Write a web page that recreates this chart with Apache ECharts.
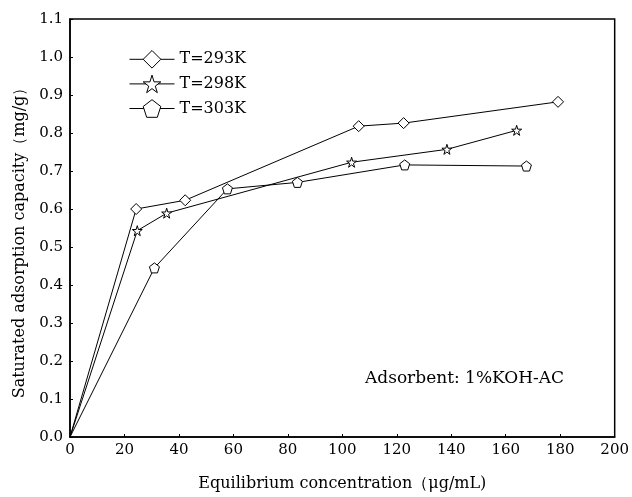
<!DOCTYPE html>
<html>
<head>
<meta charset="utf-8">
<script src="https://cdn.jsdelivr.net/npm/echarts@6/dist/echarts.min.js"></script>
<style>
  html, body { margin: 0; padding: 0; background: #fff; }
  #main { width: 632px; height: 497px; }
</style>
</head>
<body>
<div id="main"></div>
<script>
// values
var names = ['T=293K', 'T=298K', 'T=303K'];
var x293 = [0, 24.3, 42.3, 106, 122.5, 179.2];
var y293 = [0, 0.60, 0.623, 0.818, 0.826, 0.882];
var x298 = [0, 24.7, 35.5, 103.4, 138.4, 164];
var y298 = [0, 0.543, 0.589, 0.723, 0.757, 0.807];
var x303 = [0, 31, 57.8, 83.5, 122.9, 167.6];
var y303 = [0, 0.445, 0.653, 0.67, 0.716, 0.713];
var note = 'Adsorbent: 1%KOH-AC';

var STAR = 'path://M50,0 L61,35 L98,35 L68,57 L79,91 L50,70 L21,91 L32,57 L2,35 L39,35 Z';
var PENTA = 'path://M50,0 L98,35 L79,91 L21,91 L2,35 Z';
var FONT = 'DejaVu Serif';

function pts(xs, ys) {
  return xs.map(function (x, i) {
    // origin point: line only, no marker
    if (i === 0) return { value: [x, ys[i]], symbol: 'none' };
    return [x, ys[i]];
  });
}

function mk(name, xs, ys, sym, size) {
  return {
    name: name,
    type: 'line',
    data: pts(xs, ys),
    symbol: sym,
    symbolSize: size,
    showSymbol: true,
    clip: false,
    lineStyle: { color: '#000', width: 1 },
    itemStyle: { color: '#fff', borderColor: '#000', borderWidth: 1 },
    emphasis: { disabled: true },
    animation: false
  };
}

var myChart = echarts.init(document.getElementById('main'));

var option = {
  backgroundColor: '#fff',
  animation: false,
  grid: {
    left: 70, right: 14, top: 19, bottom: 55,
    show: true, borderColor: '#000', borderWidth: 1.5
  },
  legend: {
    orient: 'vertical',
    left: 124, top: 45,
    itemWidth: 45, itemHeight: 22, itemGap: 6,
    data: names,
    itemStyle: { borderWidth: 1 },
    lineStyle: { width: 1 },
    textStyle: { fontFamily: FONT, fontSize: 16, color: '#000' }
  },
  xAxis: {
    type: 'value',
    min: 0, max: 200, interval: 20,
    name: 'Equilibrium concentration（μg/mL)',
    nameLocation: 'middle',
    nameGap: 39,
    nameTextStyle: { fontFamily: FONT, fontSize: 16, color: '#000' },
    axisLine: { lineStyle: { color: '#000', width: 1.5 } },
    axisTick: { inside: true, length: 3, lineStyle: { color: '#000' } },
    axisLabel: { fontFamily: FONT, fontSize: 15, color: '#000', margin: 6 },
    splitLine: { show: false }
  },
  yAxis: {
    type: 'value',
    min: 0, max: 1.1, interval: 0.1,
    name: 'Saturated adsorption capacity（mg/g）',
    nameLocation: 'middle',
    nameGap: 42,
    nameTextStyle: { fontFamily: FONT, fontSize: 16, color: '#000', padding: [0, 22, 0, 0] },
    axisLine: { lineStyle: { color: '#000', width: 1.5 } },
    axisTick: { inside: true, length: 3, lineStyle: { color: '#000' } },
    axisLabel: {
      fontFamily: FONT, fontSize: 15, color: '#000', margin: 7,
      formatter: function (v) { return v.toFixed(1); }
    },
    splitLine: { show: false }
  },
  graphic: [{
    type: 'text',
    left: 365, top: 370,
    style: { text: note, fontFamily: FONT, fontSize: 17, fill: '#000' }
  }],
  series: [
    mk(names[0], x293, y293, 'diamond', 11),
    mk(names[1], x298, y298, STAR, 10),
    mk(names[2], x303, y303, PENTA, 10)
  ]
};

myChart.setOption(option);
</script>
</body>
</html>
